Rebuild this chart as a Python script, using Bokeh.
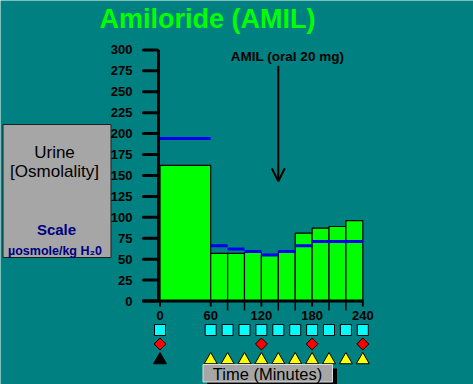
from bokeh.plotting import figure
from bokeh.models import Range1d, Arrow, OpenHead
from bokeh.core.properties import value
from bokeh.embed import file_html
from bokeh.resources import INLINE

# ---------------- data ----------------
bar_start = [0, 60, 80, 100, 120, 140, 160, 180, 200, 220]
bar_end = [60, 80, 100, 120, 140, 160, 180, 200, 220, 240]
urine_osmolality = [162, 57, 57, 58, 55, 59, 81, 87, 89, 96]
reference_level = [194, 66, 62, 59, 55, 59, 66, 71, 71, 71]

y_ticks = [0, 25, 50, 75, 100, 125, 150, 175, 200, 225, 250, 275, 300]
x_major_ticks = [0, 60, 120, 180, 240]
x_minor_ticks = [80, 100, 140, 160, 200, 220]
x_tick_labels = ["0", "60", "120", "180", "240"]

square_times = [0, 60, 80, 100, 120, 140, 160, 180, 200, 220, 240]
diamond_times = [0, 120, 180, 240]
black_triangle_times = [0]
yellow_triangle_times = [60, 80, 100, 120, 140, 160, 180, 200, 220, 240]

dose_time = 140
dose_label = "AMIL (oral 20 mg)"
title_text = "Amiloride (AMIL)"

# ---------------- layout ----------------
W, H = 473, 384
X0_PX, X_SCALE = 159.5, 0.845      # px of t=0, px per minute
Y0_PX, Y_SCALE = 300.5, 0.837      # px (from top) of value 0, px per unit

x_start = -X0_PX / X_SCALE
x_end = (W - X0_PX) / X_SCALE
y_start = -(H - Y0_PX) / Y_SCALE
y_end = Y0_PX / Y_SCALE

TEAL = "#008080"
FONT = value("Liberation Sans")

p = figure(width=W, height=H, x_range=Range1d(x_start, x_end),
           y_range=Range1d(y_start, y_end), x_axis_type=None, y_axis_type=None,
           toolbar_location=None, output_backend="svg", min_border=0,
           background_fill_color=TEAL, border_fill_color=TEAL,
           outline_line_color=None)
p.grid.visible = False
p.extra_x_ranges["px"] = Range1d(0, W)
p.extra_y_ranges["px"] = Range1d(H, 0)

# title
p.text(x=[207], y=[18.8], text=[title_text], x_range_name="px", y_range_name="px",
       text_font=FONT, text_font_style="bold", text_font_size="27px",
       text_color="#00ff00", text_align="center", text_baseline="middle")

# left gray box
p.quad(left=[2.5], right=[110.5], top=[124], bottom=[257], x_range_name="px",
       y_range_name="px", fill_color="#a6a6a6", line_color="#202020", line_width=1)
p.text(x=[54, 54], y=[151.5, 170.5], text=["Urine", "[Osmolality]"],
       x_range_name="px", y_range_name="px", text_font=FONT,
       text_font_size="17px", text_color="black", text_align="center",
       text_baseline="middle")
p.text(x=[56], y=[228.5], text=["Scale"], x_range_name="px", y_range_name="px",
       text_font=FONT, text_font_style="bold", text_font_size="15px",
       text_color="#000080", text_align="center", text_baseline="middle")
p.text(x=[54.5], y=[250.5], text=["\u00b5osmole/kg H\u20820"], x_range_name="px",
       y_range_name="px", text_font=FONT, text_font_style="bold",
       text_font_size="12.5px", text_color="#000080", text_align="center",
       text_baseline="middle")

# bars
p.quad(left=bar_start, right=bar_end, bottom=0, top=urine_osmolality,
       fill_color="#00ff00", line_color="black", line_width=1.2)
# reference (blue) lines
p.segment(x0=bar_start, x1=bar_end, y0=reference_level, y1=reference_level,
          line_color="#0000f0", line_width=3)

# y axis
p.segment(x0=[158], x1=[158], y0=[0], y1=[y_ticks[-1]], x_range_name="px",
          line_color="black", line_width=3)
p.segment(x0=[143] * len(y_ticks), x1=[157] * len(y_ticks), y0=y_ticks, y1=y_ticks,
          x_range_name="px", line_color="black", line_width=3, line_cap="round")
p.text(x=[132] * len(y_ticks), y=y_ticks, text=[str(v) for v in y_ticks],
       x_range_name="px", text_font=FONT, text_font_style="bold",
       text_font_size="13px", text_color="black", text_align="right",
       text_baseline="middle")

# x axis
p.segment(x0=[142], x1=[363], y0=[0], y1=[0], x_range_name="px",
          line_color="black", line_width=3)
p.segment(x0=x_major_ticks, x1=x_major_ticks, y0=[301] * 5, y1=[306] * 5,
          y_range_name="px", line_color="black", line_width=2)
p.segment(x0=x_minor_ticks, x1=x_minor_ticks, y0=[301] * 6, y1=[310] * 6,
          y_range_name="px", line_color="black", line_width=1.5)
p.text(x=x_major_ticks, y=[315] * 5, text=x_tick_labels, y_range_name="px",
       text_font=FONT, text_font_style="bold", text_font_size="13px",
       text_color="black", text_align="center", text_baseline="middle")

# dose arrow
p.add_layout(Arrow(end=OpenHead(size=13, line_width=2, line_color="black"),
                   x_start=dose_time, x_end=dose_time, y_start=281, y_end=143,
                   line_width=2, line_color="black"))
p.text(x=[287], y=[56], text=[dose_label], x_range_name="px", y_range_name="px",
       text_font=FONT, text_font_style="bold", text_font_size="13.5px",
       text_color="black", text_align="center", text_baseline="middle")

# sample markers
p.scatter(x=square_times, y=[329.5] * len(square_times), y_range_name="px",
          marker="square", size=11, fill_color="#00ffff", line_color="black",
          line_width=1)
p.scatter(x=diamond_times, y=[343.5] * len(diamond_times), y_range_name="px",
          marker="square", angle=0.785398, size=8.5, fill_color="#ff0000",
          line_color="black", line_width=1)
p.scatter(x=black_triangle_times, y=[359.5], y_range_name="px",
          marker="triangle", size=13, fill_color="black", line_color="black")
p.scatter(x=yellow_triangle_times, y=[359.5] * len(yellow_triangle_times),
          y_range_name="px", marker="triangle", size=13, fill_color="#ffff00",
          line_color="black", line_width=1)

# time box
p.quad(left=[206.5], right=[336.5], top=[368], bottom=[386], x_range_name="px",
       y_range_name="px", fill_color="black", line_color=None)
p.quad(left=[202.5], right=[332], top=[364], bottom=[381.5], x_range_name="px",
       y_range_name="px", fill_color="#a6a6a6", line_color="#dcdcdc", line_width=1)
p.text(x=[267], y=[373], text=["Time (Minutes)"], x_range_name="px",
       y_range_name="px", text_font=FONT, text_font_size="16.5px",
       text_color="black", text_align="center", text_baseline="middle")

open("out.html", "w").write(file_html(p, INLINE))
